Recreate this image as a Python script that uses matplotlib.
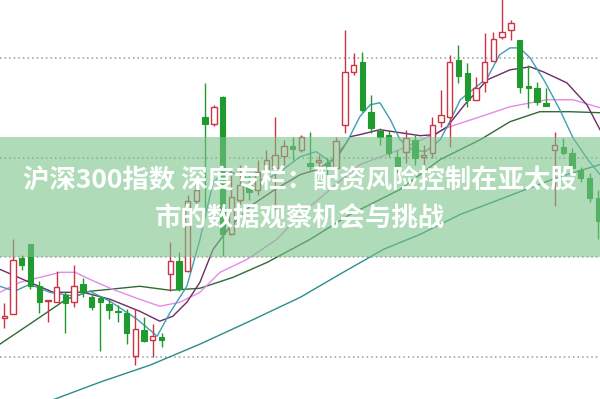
import numpy as np
import matplotlib
matplotlib.use("Agg")
from matplotlib import pyplot as plt

plt.rcParams['font.family'] = ['Noto Sans CJK SC', 'DejaVu Sans']

# daily candles: open, high, low, close
opens = [3539, 3543, 3599, 3613, 3571, 3556, 3555, 3562, 3555, 3573,
         3560, 3559, 3553, 3546, 3544, 3501, 3527, 3517, 3520, 3583,
         3596, 3586, 3656, 3741, 3734, 3761, 3623, 3658, 3673, 3668,
         3686, 3690, 3702, 3712, 3708, 3695, 3696, 3695, 3690, 3733,
         3786, 3796, 3746, 3727, 3723, 3701, 3706, 3718, 3701, 3705,
         3736, 3741, 3798, 3785, 3758, 3776, 3797, 3821, 3828, 3818,
         3771, 3770, 3755, 3708, 3711, 3705, 3688, 3680, 3660]
highs = [3554, 3618, 3602, 3613, 3576, 3557, 3586, 3565, 3592, 3579,
         3563, 3561, 3557, 3552, 3548, 3548, 3540, 3533, 3524, 3615,
         3605, 3663, 3680, 3775, 3753, 3762, 3688, 3693, 3683, 3698,
         3708, 3741, 3718, 3721, 3723, 3726, 3703, 3700, 3721, 3828,
         3805, 3806, 3763, 3730, 3728, 3708, 3728, 3723, 3713, 3741,
         3768, 3803, 3813, 3795, 3781, 3825, 3826, 3862, 3838, 3818,
         3793, 3776, 3770, 3726, 3720, 3710, 3691, 3685, 3668]
lows = [3529, 3543, 3587, 3568, 3544, 3535, 3555, 3524, 3550, 3560,
        3547, 3506, 3538, 3535, 3513, 3492, 3515, 3500, 3510, 3566,
        3566, 3585, 3647, 3646, 3732, 3601, 3622, 3653, 3658, 3663,
        3673, 3648, 3693, 3698, 3706, 3688, 3686, 3683, 3686, 3725,
        3783, 3746, 3725, 3713, 3701, 3685, 3695, 3693, 3693, 3700,
        3731, 3711, 3775, 3751, 3758, 3766, 3797, 3819, 3818, 3765,
        3750, 3753, 3752, 3651, 3703, 3688, 3676, 3655, 3618]
closes = [3541, 3597, 3592, 3571, 3555, 3557, 3570, 3554, 3571, 3565,
          3550, 3555, 3547, 3545, 3524, 3528, 3516, 3521, 3517, 3596,
          3568, 3656, 3668, 3734, 3751, 3623, 3661, 3673, 3666, 3686,
          3698, 3703, 3712, 3709, 3721, 3692, 3698, 3691, 3717, 3786,
          3793, 3748, 3730, 3721, 3705, 3690, 3720, 3700, 3703, 3733,
          3743, 3796, 3782, 3758, 3770, 3796, 3819, 3826, 3835, 3771,
          3770, 3756, 3752, 3713, 3705, 3690, 3680, 3660, 3636]

# moving averages (candle position, value)
ma5_x = [-0.5, 1.2, 2.9, 5.2, 8.1, 9.8, 12.1, 15.2, 17.5, 19.0, 20.9, 22.4,
         23.9, 25.3, 27.0, 28.7, 30.4, 31.9, 33.9, 35.7, 37.3, 39.2, 40.7,
         41.9, 43.0, 44.2, 45.3, 46.7, 48.2, 49.9, 51.0, 52.2, 53.9, 55.3,
         56.7, 57.9, 59.0, 60.2, 61.9, 63.6, 65.1, 66.8, 68.2]
ma5_y = [3571, 3566, 3573, 3565, 3561, 3566, 3556, 3538, 3521, 3545, 3571,
         3618, 3675, 3686, 3683, 3676, 3680, 3688, 3701, 3706, 3696, 3715,
         3741, 3753, 3755, 3738, 3718, 3708, 3706, 3718, 3736, 3758, 3770,
         3780, 3803, 3810, 3810, 3800, 3776, 3748, 3720, 3698, 3683]
ma10_x = [-0.5, 2.9, 5.6, 9.0, 12.1, 15.5, 17.8, 19.3, 20.9, 22.4, 23.9,
          25.6, 28.1, 31.0, 33.9, 35.8, 38.1, 39.6, 40.7, 43.0, 45.3, 47.6,
          49.3, 50.7, 52.7, 55.3, 57.9, 60.2, 61.7, 64.4, 66.7, 68.2]
ma10_y = [3588, 3575, 3565, 3565, 3558, 3546, 3536, 3541, 3555, 3575, 3608,
          3628, 3651, 3668, 3683, 3688, 3700, 3721, 3723, 3728, 3725, 3722,
          3723, 3731, 3753, 3778, 3788, 3791, 3786, 3775, 3753, 3728]
ma20_x = [-0.5, 1.8, 6.4, 8.1, 9.8, 12.4, 15.5, 17.8, 20.1, 22.4, 24.7,
          27.8, 31.2, 33.9, 37.3, 40.7, 45.3, 51.0, 54.5, 57.9, 62.1, 65.1,
          68.2]
ma20_y = [3565, 3575, 3585, 3585, 3578, 3568, 3558, 3551, 3555, 3565, 3585,
          3598, 3618, 3643, 3668, 3693, 3708, 3731, 3741, 3751, 3758, 3758,
          3750]
ma60_x = [-0.5, 2.9, 7.1, 9.8, 12.1, 15.5, 19.0, 22.4, 26.2, 30.1, 35.0,
          39.6, 45.3, 49.9, 54.5, 57.9, 61.3, 64.8, 68.2]
ma60_y = [3513, 3533, 3558, 3566, 3568, 3571, 3567, 3569, 3580, 3595, 3618,
          3643, 3668, 3698, 3718, 3736, 3746, 3746, 3745]
ma120_x = [5.2, 11.0, 16.7, 22.4, 28.1, 33.9, 38.4, 43.4, 47.6, 52.2, 56.7,
           63.3, 68.2]
ma120_y = [3456, 3475, 3492, 3513, 3536, 3560, 3583, 3608, 3623, 3643, 3658,
           3680, 3693]

grid_levels = [3500, 3600, 3700, 3800]
title_lines = ["沪深300指数 深度专栏：配资风险控制在亚太股", "市的数据观察机会与挑战"]

UP = '#cc3344'
DOWN = '#1f9a2e'

fig = plt.figure(figsize=(6, 3.99), dpi=100)
ax = fig.add_axes([0, 0, 1, 1])
ax.axis('off')
ax.set_xlim(-0.49, 68.2)
ax.set_ylim(3458, 3858)

for g in grid_levels:
    ax.axhline(g, color='#9a9a9a', lw=1.1, ls=(0, (1, 2)), zorder=1)

ax.plot(ma120_x, ma120_y, color='#2b8c8c', lw=1.0, zorder=2)
ax.plot(ma60_x, ma60_y, color='#2f6a34', lw=1.0, zorder=2)
ax.plot(ma20_x, ma20_y, color='#e68ae8', lw=1.0, zorder=2)
ax.plot(ma10_x, ma10_y, color='#6b2d66', lw=1.0, zorder=2)
ax.plot(ma5_x, ma5_y, color='#3c9fb4', lw=1.0, zorder=2)

x = np.arange(len(opens))
o = np.array(opens, float)
c = np.array(closes, float)
up = c >= o
cols = np.where(up, UP, DOWN)
ax.vlines(x, lows, highs, colors=cols, lw=1.0, zorder=3)
bottom = np.minimum(o, c)
height = np.maximum(np.abs(c - o), 1.5)
ax.bar(x[up], height[up], bottom=bottom[up], width=0.62, facecolor='white',
       edgecolor=UP, linewidth=1.0, zorder=4)
ax.bar(x[~up], height[~up], bottom=bottom[~up], width=0.62, facecolor=DOWN,
       edgecolor=DOWN, linewidth=0.8, zorder=4)

# translucent banner with the headline
ax.axhspan(3600, 3721, color='#7ac38a', alpha=0.6, lw=0, zorder=5)
fig.text(0.5, 0.545, title_lines[0], color='white', fontsize=19,
         fontweight='bold', ha='center', va='center', zorder=6)
fig.text(0.5, 0.455, title_lines[1], color='white', fontsize=19,
         fontweight='bold', ha='center', va='center', zorder=6)

fig.savefig('out.png', dpi=100)
